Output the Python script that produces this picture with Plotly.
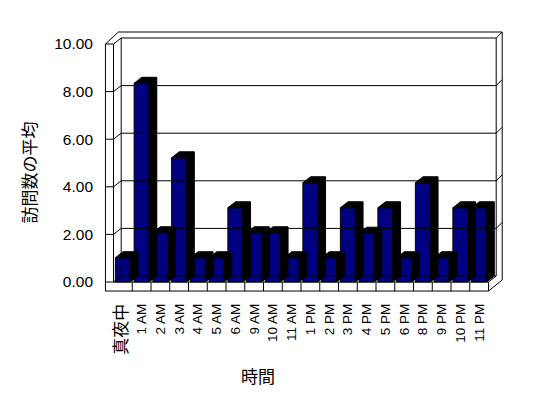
import plotly.graph_objects as go

# ---- data ----
categories = ["真夜中", "1 AM", "2 AM", "3 AM", "4 AM", "5 AM", "6 AM", "9 AM", "10 AM", "11 AM",
              "1 PM", "2 PM", "3 PM", "4 PM", "5 PM", "6 PM", "8 PM", "9 PM", "10 PM", "11 PM"]
values = [1.02, 8.35, 2.07, 5.22, 1.02, 1.02, 3.12, 2.07, 2.07, 1.02,
          4.17, 1.02, 3.12, 2.05, 3.12, 1.02, 4.17, 1.02, 3.12, 3.12]
y_ticks = [0, 2, 4, 6, 8, 10]
y_title = "訪問数の平均"
x_title = "時間"

# ---- geometry of the pseudo-3D box (data units) ----
N = len(categories)
X0, X1 = -0.5, N - 0.5          # floor front edge
TW = 0.43                        # left wall thickness
TF = 0.38                        # floor thickness
DX, DY = 0.41, 0.252             # depth offset
BX, BY = 0.32, 0.252             # back wall thickness
TOP = y_ticks[-1]
OX = X0 - TW
RB = 0.084
BAR_W = 0.8

fx, fy = [], []
def seg(pts):
    for p in pts:
        fx.append(p[0]); fy.append(p[1])
    fx.append(None); fy.append(None)

seg([(OX, -TF), (OX, TOP), (X0, TOP), (X0, 0)])
seg([(OX, TOP), (X0 + DX - 0.15, TOP + DY + BY), (X1 + DX + BX, TOP + DY + BY),
     (X1 + DX + BX, RB), (X1, -TF), (OX, -TF)])
seg([(X0, TOP), (X0 + DX, TOP + DY), (X1 + DX, TOP + DY), (X1 + DX + BX, TOP + DY + BY)])
seg([(X0 + DX, DY), (X0 + DX, TOP + DY)])
seg([(X1 + DX, TOP + DY), (X1 + DX, DY), (X1, 0), (OX, 0)])
seg([(X1, 0), (X1, -TF)])
for k in range(1, N):
    seg([(X0 + k, 0), (X0 + k, -TF)])
for v in y_ticks[:-1]:
    if v == 0:
        seg([(X0, 0), (X0 + DX, DY), (X1 + DX, DY)])
    else:
        seg([(OX, v), (X0, v), (X0 + DX, v + DY), (X1 + DX, v + DY), (X1 + DX + BX, v + DY + BY)])

# depth (top + side) faces of bars
sx, sy = [], []
for i, v in enumerate(values):
    xl, xr = i - BAR_W / 2, i + BAR_W / 2
    pts = [(xl, v), (xl + DX, v + DY), (xr + DX, v + DY), (xr + DX, DY), (xr, 0), (xr, v), (xl, v)]
    for p in pts:
        sx.append(p[0]); sy.append(p[1])
    sx.append(None); sy.append(None)

ticktext = [f"<span style='font-size:17px'>{c}</span>" if not c[0].isdigit() else c for c in categories]

fig = go.Figure()
fig.add_trace(go.Scatter(x=fx, y=fy, mode="lines", line=dict(color="black", width=1),
                         hoverinfo="skip", showlegend=False))
fig.add_trace(go.Scatter(x=sx, y=sy, mode="lines", fill="toself", fillcolor="black",
                         line=dict(color="black", width=1), hoverinfo="skip", showlegend=False))
fig.add_trace(go.Bar(x=list(range(N)), y=values, width=BAR_W,
                     marker=dict(color="#000080", line=dict(color="black", width=1)),
                     showlegend=False))

L, R, T, B = 104, 44, 30, 104
W, H = 548, 398
pxu_x, pxu_y = 18.75, 23.8
xmin = (L - 122.875) / pxu_x
xmax = xmin + (W - L - R) / pxu_x
ymax = (282 - T) / pxu_y
ymin = ymax - (H - T - B) / pxu_y

font_latin = "Liberation Sans, Arial, Noto Sans CJK JP, sans-serif"
font_cjk = "Noto Sans CJK JP, sans-serif"

fig.update_layout(
    width=W, height=H,
    margin=dict(l=L, r=R, t=T, b=B, pad=0),
    paper_bgcolor="white", plot_bgcolor="white",
    xaxis=dict(range=[xmin, xmax], tickmode="array", tickvals=list(range(N)), ticktext=ticktext,
               tickangle=-90, showgrid=False, zeroline=False, showline=False, ticks="",
               ticklabelstandoff=6, tickfont=dict(family=font_latin, size=13.5, color="black")),
    yaxis=dict(range=[ymin, ymax], tickmode="array", tickvals=y_ticks, tickformat=".2f",
               showgrid=False, zeroline=False, showline=False, ticks="",
               ticklabelstandoff=10, tickfont=dict(family=font_latin, size=15.5, color="black")),
    annotations=[
        dict(text=y_title, xref="paper", yref="paper", x=(27.5 - L) / (W - L - R),
             y=(H - B - 173) / (H - T - B), xanchor="center", yanchor="middle",
             textangle=-90, showarrow=False, font=dict(family=font_cjk, size=17, color="black")),
        dict(text=x_title, xref="paper", yref="paper", x=(258 - L) / (W - L - R),
             y=(H - B - 375) / (H - T - B), xanchor="center", yanchor="middle",
             showarrow=False, font=dict(family=font_cjk, size=17, color="black")),
    ],
    bargap=0.2,
)

fig.write_html("out.html")
